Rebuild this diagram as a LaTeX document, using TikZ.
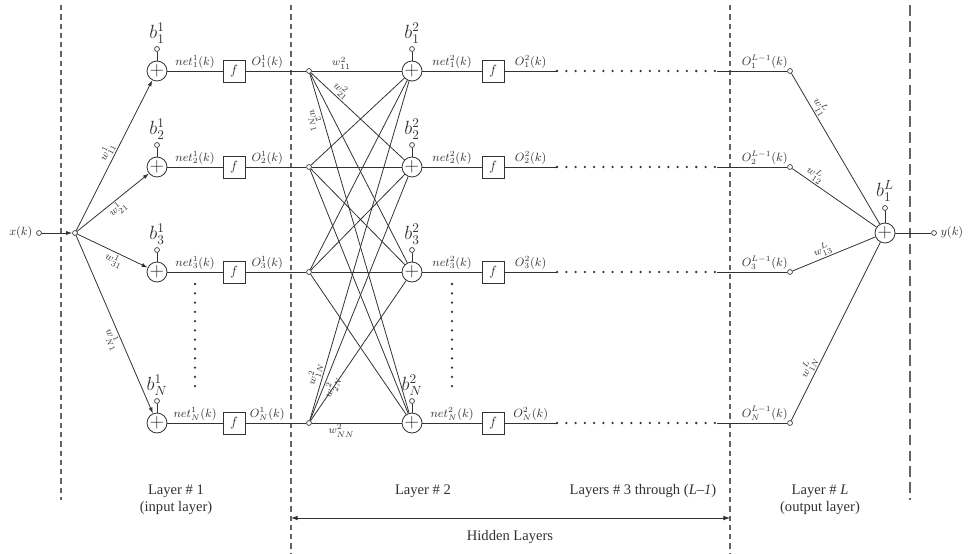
\documentclass[tikz,border=0pt]{standalone}
\usepackage{fontspec}
\setmainfont{Liberation Serif}
\definecolor{nnink}{RGB}{50,50,50}
\definecolor{nngray}{RGB}{100,100,100}
\usetikzlibrary{arrows.meta,positioning,calc}

\begin{document}
\begin{tikzpicture}[x=0.0265cm,y=-0.0265cm,nnink,line width=0.6pt,
  sumnd/.style={draw,circle,minimum size=0.53cm,inner sep=0pt,font=\Large},
  port/.style={draw,circle,minimum size=0.13cm,inner sep=0pt,fill=white,line width=0.5pt},
  fbox/.style={draw,minimum size=0.58cm,inner sep=0pt},
  sig/.style={font=\small,inner sep=1.5pt},
  wlab/.style={font=\footnotesize,sloped,inner sep=1pt},
  blab/.style={font=\Large,inner sep=0pt},
  bnd/.style={nngray,line width=0.8pt,dash pattern=on 4pt off 3pt},
  dots/.style={line width=1.9pt,line cap=round,dash pattern=on 0pt off 7pt},
  tip/.style={-{Latex[length=4.5pt,width=3pt]}},
  lyr/.style={align=center,font=\fontsize{11pt}{12.5pt}\selectfont}]
  \useasboundingbox (0,0) rectangle (969,554);
  \draw[bnd] (61,5) -- (61,500);
  \draw[bnd] (291,5) -- (291,554);
  \draw[bnd] (730,5) -- (730,554);
  \draw[bnd,line width=1.1pt,dash pattern=on 8pt off 4pt] (910,5) -- (910,500);
  \node[port] (xin) at (39,233) {};
  \node[left=1pt of xin,sig] (xlab) {$x(k)$};
  \node[port] (jn) at (75,233) {};
  \draw[tip] (xin) -- (jn);
  \node[sumnd] (so) at (885,233) {$+$};
  \node[port] (bo) at (885,208) {};
  \node[blab] (blo) at (885,191) {$b^L_1$};
  \draw (bo) -- (so);
  \node[port] (yout) at (934,233) {};
  \node[right=1pt of yout,sig] (ylab) {$y(k)$};
  \draw (so) -- (yout);
  \foreach \i/\y/\n in {1/71/1,2/167/2,3/272/3,4/423/N}{
    \node[sumnd] (sa\i) at (157,\y) {$+$};
    \node[port] (ba\i) at (157,\y-22) {};
    \node[blab] (bla\i) at (157,\y-38) {$b^1_{\n}$};
    \node[fbox] (fa\i) at (234,\y) {$f$};
    \node[port] (ib\i) at (309,\y) {};
    \node[sumnd] (sb\i) at (412,\y) {$+$};
    \node[port] (bb\i) at (412,\y-22) {};
    \node[blab] (blb\i) at (412,\y-38) {$b^2_{\n}$};
    \node[fbox] (fb\i) at (493,\y) {$f$};
    \coordinate (da\i) at (557,\y);
    \coordinate (db\i) at (717,\y);
    \node[port] (oc\i) at (790,\y) {};
    \draw[tip] (jn) -- (sa\i);
    \draw (ba\i) -- (sa\i);
    \draw (bb\i) -- (sb\i);
    \draw (sa\i) -- node[sig,above] (na\i) {$net^1_{\n}(k)$} (fa\i);
    \draw (fa\i) -- node[sig,above,pos=0.36] (oa\i) {$O^1_{\n}(k)$} (ib\i);
    \draw (sb\i) -- node[sig,above] (nb\i) {$net^2_{\n}(k)$} (fb\i);
    \draw (fb\i) -- node[sig,above] (ob\i) {$O^2_{\n}(k)$} (da\i);
    \draw[dots] (da\i) -- (db\i);
    \draw (db\i) -- node[sig,above,pos=0.68] (ol\i) {$O^{L-1}_{\n}(k)$} (oc\i);
    \draw (oc\i) -- (so);
  }
  \foreach \i in {1,2,3,4}
    \foreach \j in {1,2,3,4}
      \draw (ib\j) -- (sb\i);
  \path (jn) -- node[wlab,above,pos=0.5] (w11a) {$w^1_{11}$} (sa1);
  \path (jn) -- node[wlab,below,pos=0.5] (w21a) {$w^1_{21}$} (sa2);
  \path (jn) -- node[wlab,below,pos=0.57] (w31a) {$w^1_{31}$} (sa3);
  \path (jn) -- node[wlab,below,pos=0.57] (wn1a) {$w^1_{N1}$} (sa4);
  \path (ib1) -- node[wlab,above,pos=0.33] (w11b) {$w^2_{11}$} (sb1);
  \path (ib1) -- node[wlab,above,pos=0.27] (w21b) {$w^2_{21}$} (sb2);
  \path (ib1) -- node[wlab,below,pos=0.13] (wn1b) {$w^2_{N1}$} (sb4);
  \path (ib4) -- node[wlab,above,pos=0.13] (w1nb) {$w^2_{1N}$} (sb1);
  \path (ib4) -- node[wlab,below,pos=0.15] (w2nb) {$w^2_{2N}$} (sb2);
  \path (ib4) -- node[wlab,below,pos=0.33] (wnnb) {$w^2_{NN}$} (sb4);
  \path (oc1) -- node[wlab,above,pos=0.25] (w11c) {$w^L_{11}$} (so);
  \path (oc2) -- node[wlab,above,pos=0.22] (w12c) {$w^L_{12}$} (so);
  \path (oc3) -- node[wlab,above,pos=0.4] (w13c) {$w^L_{13}$} (so);
  \path (oc4) -- node[wlab,above,pos=0.28] (w1nc) {$w^L_{1N}$} (so);
  \draw[dots] (195,284) -- (195,390);
  \draw[dots] (452,284) -- (452,390);
  \node[lyr] (l1) at (176,500) {Layer \# 1\\(input layer)};
  \node[lyr] (l2) at (423,491) {Layer \# 2};
  \node[lyr] (l3) at (643,491) {Layers \# 3 through (\textit{L}–\textit{1})};
  \node[lyr] (ll) at (820,500) {Layer \# \textit{L}\\(output layer)};
  \coordinate (hl) at (291,518);
  \coordinate (hr) at (730,518);
  \draw[{Latex[length=5pt,width=3.5pt]}-{Latex[length=5pt,width=3.5pt]}] (hl) -- (hr);
  \node[lyr] (hid) at (510,537) {Hidden Layers};
\end{tikzpicture}
\end{document}
